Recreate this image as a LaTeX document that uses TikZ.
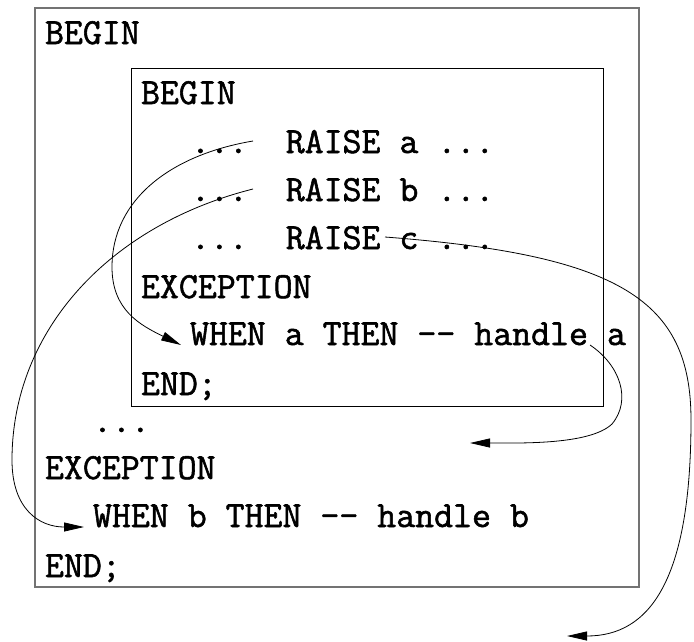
\documentclass[tikz,border=0pt]{standalone}
\usepackage{fontspec}
\newfontfamily\codefont{Latin Modern Mono}[FakeBold=1.5]
\usetikzlibrary{arrows.meta}
\begin{document}
\begin{tikzpicture}[x=1pt,y=-1pt,
  code/.style={anchor=base west,inner sep=0pt,outer sep=0pt,font=\codefont\fontsize{36.8}{44}\selectfont},
  outerbox/.style={draw=black!55,line width=1.3pt},
  innerbox/.style={draw=black,line width=0.8pt},
  jump/.style={draw=black,line width=0.8pt,-{Triangle[length=20pt,width=9pt]}}]
\useasboundingbox (0,0) rectangle (694,641);
% boxes
\draw[outerbox] (35,8) rectangle (639,587);
\draw[innerbox] (131,68) rectangle (603,406);
% text
\node[code] (b1) at (45,44) {BEGIN};
\node[code] (b2) at (141,104) {BEGIN};
\node[code] (ra) at (191,153) {...\ \ RAISE a ...};
\node[code] (rb) at (191,201) {...\ \ RAISE b ...};
\node[code] (rc) at (191,249) {...\ \ RAISE c ...};
\node[code] (ex1) at (141,298) {EXCEPTION};
\node[code] (wa) at (190,345) {WHEN a THEN -{}- handle a};
\node[code] (end1) at (141,395) {END;};
\node[code] (dots) at (93,432) {...};
\node[code] (ex2) at (45,479) {EXCEPTION};
\node[code] (wb) at (93,527) {WHEN b THEN -{}- handle b};
\node[code] (end2) at (45,577) {END;};
% connector end points
\coordinate (aS) at (253,141);
\coordinate (aE) at (181,345);
\coordinate (bS) at (253,189);
\coordinate (bE) at (84,527);
\coordinate (cS) at (385,237);
\coordinate (cE) at (567,636);
\coordinate (dS) at (590,345);
\coordinate (dE) at (470,443);
% connectors
\draw[jump] (aS) .. controls (170,155) and (112,200) .. (112,267)
  .. controls (112,310) and (140,325) .. (aE);
\draw[jump] (bS) .. controls (110,225) and (12,330) .. (12,460)
  .. controls (12,510) and (40,527) .. (bE);
\draw[jump] (cS) .. controls (620,255) and (691,300) .. (691,420)
  .. controls (691,580) and (650,636) .. (cE);
\draw[jump] (dS) .. controls (620,365) and (632,400) .. (612,424)
  .. controls (590,445) and (520,443) .. (dE);
\end{tikzpicture}
\end{document}
